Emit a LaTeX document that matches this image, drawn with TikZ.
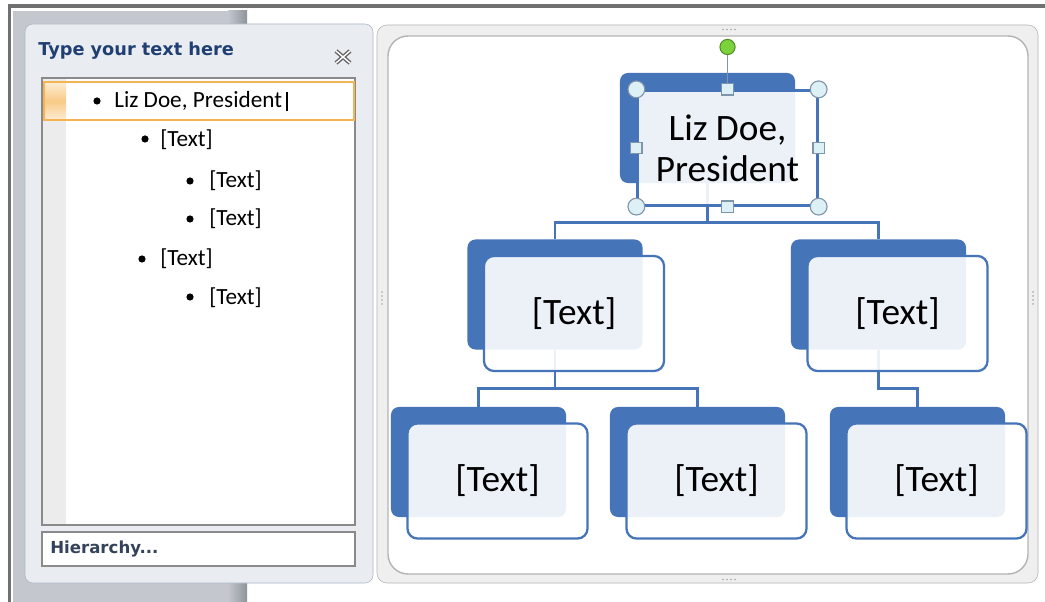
\documentclass[tikz,border=0pt]{standalone}
\usepackage{fontspec}
\setmainfont{Carlito}
\newfontfamily\uifont{DejaVu Sans}
\usetikzlibrary{positioning, calc}
\definecolor{chart_blue}{HTML}{4674B8}
\definecolor{pane_bg}{HTML}{E9ECF1}
\definecolor{pane_edge}{HTML}{A9B7C5}
\definecolor{panel_gray}{HTML}{C4C8CE}
\definecolor{panel_dark}{HTML}{8E939A}
\definecolor{frame_gray}{HTML}{707070}
\definecolor{list_edge}{HTML}{8A8A8A}
\definecolor{col_gray}{HTML}{ECECEC}
\definecolor{sel_orange}{HTML}{F5B453}
\definecolor{title_blue}{HTML}{1F3F73}
\definecolor{hier_text}{HTML}{34435A}
\definecolor{canvas_bg}{HTML}{EFEFEF}
\definecolor{canvas_edge}{HTML}{B4B4B4}
\definecolor{handle_fill}{HTML}{DDF0F6}
\definecolor{handle_edge}{HTML}{7F95AA}
\definecolor{rot_green}{HTML}{7CD23A}
\definecolor{rot_edge}{HTML}{4B8A22}
\tikzset{
    back/.style={rectangle, rounded corners=0.2cm, fill=chart_blue, minimum width=4.375cm, minimum height=2.75cm},
    front/.style={rectangle, draw=chart_blue, line width=1.6pt, rounded corners=0.25cm, fill=white, fill opacity=0.9, text opacity=1, minimum width=4.5cm, minimum height=2.875cm, align=center, font=\fontsize{26.5}{29}\selectfont},
    link/.style={draw=chart_blue, line width=1.9pt},
    bullet/.style={circle, fill=black, inner sep=0pt, minimum size=0.18cm},
    item/.style={anchor=west, inner sep=0pt, font=\fontsize{16.5}{18}\selectfont},
    handle/.style={circle, draw=handle_edge, fill=handle_fill, line width=0.8pt, minimum size=0.42cm, inner sep=0pt},
    sqhandle/.style={rectangle, draw=handle_edge, fill=handle_fill, line width=0.8pt, minimum size=0.28cm, inner sep=0pt},
    grip/.style={fill=gray!70}
}

\begin{document}
\begin{tikzpicture}[x=0.025cm, y=-0.025cm]
    \useasboundingbox[fill=white] (0,0) rectangle (1045,602);

    % window edge and gray panel
    \fill[panel_gray] (13,11) rectangle (228,602);
    \shade[left color=panel_gray, right color=panel_dark] (228,11) rectangle (247,602);
    \draw[frame_gray, line width=2.2pt] (8,6) -- (1045,6);
    \draw[frame_gray, line width=2.2pt] (9.5,5) -- (9.5,602);

    % text pane
    \draw[pane_edge, fill=pane_bg, rounded corners=0.2cm] (25,24) rectangle (373,583);
    \node (Pane_title) [anchor=west, inner sep=0pt, text=title_blue, font=\uifont\bfseries\fontsize{12.6}{14}\selectfont] at (38,51) {Type your text here};
    \draw[gray!80!black, line width=3pt] (336,51) -- (350,63) (350,51) -- (336,63);
    \draw[white, line width=1pt] (336,51) -- (350,63) (350,51) -- (336,63);

    \draw[list_edge, line width=1pt, fill=white] (42,78) rectangle (355,525);
    \fill[col_gray] (43,79) rectangle (66,524);
    \fill[white] (44,82) rectangle (354,120);
    \shade[top color=sel_orange!25, bottom color=sel_orange!25, middle color=sel_orange!70] (44,82) rectangle (66,120);
    \draw[sel_orange, line width=1pt] (44,82) rectangle (354,120);

    \node (B1) [bullet] at (97,101) {};
    \node (Item1) [item] at (114,101) {Liz Doe, President};
    \draw[line width=1pt] (287,92) -- (287,111);
    \node (B2) [bullet] at (145,139) {};
    \node (Item2) [item] at (160,140) {[Text]};
    \node (B3) [bullet] at (190,181) {};
    \node (Item3) [item] at (209,181) {[Text]};
    \node (B4) [bullet] at (190,219) {};
    \node (Item4) [item] at (209,219) {[Text]};
    \node (B5) [bullet] at (142,259) {};
    \node (Item5) [item] at (160,259) {[Text]};
    \node (B6) [bullet] at (190,297) {};
    \node (Item6) [item] at (209,298) {[Text]};

    \draw[list_edge, line width=1pt, fill=white] (42,532) rectangle (355,566);
    \node (Hier_label) [anchor=west, inner sep=0pt, text=hier_text, font=\uifont\bfseries\fontsize{11.8}{14}\selectfont] at (50,549) {Hierarchy...};

    % canvas frame
    \draw[canvas_edge, fill=canvas_bg, rounded corners=0.25cm] (377,25) rectangle (1038,583);
    \draw[canvas_edge, line width=1pt, fill=white, rounded corners=0.5cm] (388,36) rectangle (1028,574);
    \foreach \i in {0,...,3} {
        \fill[grip] (723+\i*4,29.5) circle (0.7pt);
        \fill[grip] (723+\i*4,579.5) circle (0.7pt);
        \fill[grip] (382,292+\i*4) circle (0.7pt);
        \fill[grip] (1033,292+\i*4) circle (0.7pt);
    }

    % org chart
    \node (Top) [back] at (707.5,128) {};
    \node (Mid_left) [back] at (555,294.5) {};
    \node (Mid_right) [back] at (878.5,294.5) {};
    \node (Low_a) [back] at (478.5,462) {};
    \node (Low_b) [back] at (697.5,462) {};
    \node (Low_c) [back] at (917.5,462) {};

    \draw[link] (Top.south) -- ++(0,39) -| (Mid_left.north);
    \draw[link] (Top.south) -- ++(0,39) -| (Mid_right.north);
    \draw[link] (Mid_left.south) -- ++(0,38.5) -| (Low_a.north);
    \draw[link] (Mid_left.south) -- ++(0,38.5) -| (Low_b.north);
    \draw[link] (Mid_right.south) -- ++(0,38.5) -| (Low_c.north);

    \node (Top_f) [front, sharp corners] at (727.5,148) {Liz Doe,\\President};
    \node (Mid_left_f) [front] at (574,313.5) {[Text]};
    \node (Mid_right_f) [front] at (897.5,313.5) {[Text]};
    \node (Low_a_f) [front] at (497.5,481) {[Text]};
    \node (Low_b_f) [front] at (716.5,481) {[Text]};
    \node (Low_c_f) [front] at (936.5,481) {[Text]};

    % selection handles
    \node (Rot) [circle, draw=rot_edge, fill=rot_green, line width=0.7pt, minimum size=0.38cm, inner sep=0pt] at (727.5,47) {};
    \draw[handle_edge, line width=1.2pt] (Rot) -- (Top_f.north);
    \foreach \a in {north west, north east, south west, south east}
        \node [handle] at (Top_f.\a) {};
    \foreach \a in {north, south, west, east}
        \node [sqhandle] at (Top_f.\a) {};

\end{tikzpicture}
\end{document}
